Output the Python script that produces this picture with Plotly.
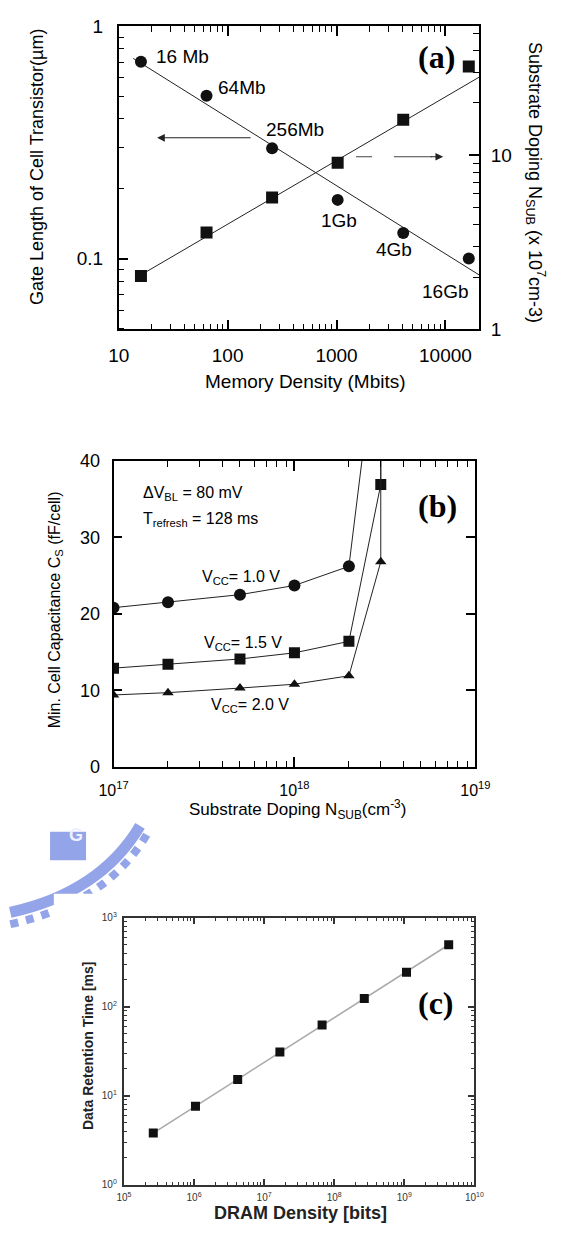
import math
import plotly.graph_objects as go

W, H = 569, 1235

# ---------------- Panel (a) data ----------------
density_mb = [16, 64, 256, 1024, 4096, 16384]
density_labels = ["16 Mb", "64Mb", "256Mb", "1Gb", "4Gb", "16Gb"]
gate_length_um = [0.705, 0.503, 0.299, 0.179, 0.129, 0.100]
substrate_doping_e17 = [2.03, 3.6, 5.72, 9.05, 16.0, 32.4]
gate_fit_x = [13.6, 20400]
gate_fit_y = [0.728, 0.085]
doping_fit_x = [14.2, 20400]
doping_fit_y = [1.97, 28.1]
a_xticks = [10, 100, 1000, 10000]
a_xticktext = ["10", "100", "1000", "10000"]
a_yticks = [0.1, 1]
a_yticktext = ["0.1", "1"]
a_y2ticks = [1, 10]
a_y2ticktext = ["1", "10"]

# ---------------- Panel (b) data ----------------
nsub_vcc10 = [1e17, 2e17, 5e17, 1e18, 2e18, 3e18]
cs_vcc10 = [20.8, 21.5, 22.5, 23.7, 26.2, 60]
nsub_vcc15 = [1e17, 2e17, 5e17, 1e18, 2e18, 3e18, 3e18]
cs_vcc15 = [12.9, 13.4, 14.1, 14.9, 16.4, 36.9, 60]
nsub_vcc20 = [1e17, 2e17, 5e17, 1e18, 2e18, 3e18, 3e18]
cs_vcc20 = [9.4, 9.7, 10.3, 10.8, 11.9, 26.8, 60]
b_xticks = [1e17, 1e18, 1e19]
b_xticktext = ["10<sup>17</sup>", "10<sup>18</sup>", "10<sup>19</sup>"]
b_yticks = [0, 10, 20, 30, 40]

# ---------------- Panel (c) data ----------------
dram_bits = [262144, 1048576, 4194304, 16777216, 67108864,
             268435456, 1073741824, 4294967296]
retention_ms = [3.8, 7.6, 15.2, 31, 62, 123, 243, 495]
c_xticks = [1e5, 1e6, 1e7, 1e8, 1e9, 1e10]
c_xticktext = ["10<sup>5</sup>", "10<sup>6</sup>", "10<sup>7</sup>",
               "10<sup>8</sup>", "10<sup>9</sup>", "10<sup>10</sup>"]
c_yticks = [1, 10, 100, 1000]
c_yticktext = ["10<sup>0</sup>", "10<sup>1</sup>", "10<sup>2</sup>", "10<sup>3</sup>"]


def px(x):
    return x / W


def py(y):
    return 1 - y / H


SANS = "Liberation Sans, Arial, Helvetica, sans-serif"
SERIF = "Liberation Serif, Times New Roman, serif"
BLK = "#111111"


def minor_ticks(color="black", length=6):
    return dict(dtick="D1", ticks="inside", ticklen=length, tickwidth=1.2,
                tickcolor=color, showgrid=False)


fig = go.Figure()

# ---- (a) ----
fig.add_trace(go.Scatter(x=gate_fit_x, y=gate_fit_y, mode="lines",
                         line=dict(color="#222", width=1), xaxis="x", yaxis="y",
                         showlegend=False, hoverinfo="skip"))
fig.add_trace(go.Scatter(x=density_mb, y=gate_length_um, mode="markers",
                         marker=dict(symbol="circle", size=12, color=BLK),
                         xaxis="x", yaxis="y", showlegend=False))
fig.add_trace(go.Scatter(x=doping_fit_x, y=doping_fit_y, mode="lines",
                         line=dict(color="#222", width=1), xaxis="x", yaxis="y2",
                         showlegend=False, hoverinfo="skip"))
fig.add_trace(go.Scatter(x=density_mb, y=substrate_doping_e17, mode="markers",
                         marker=dict(symbol="square", size=12, color=BLK),
                         xaxis="x", yaxis="y2", showlegend=False))

# ---- (b) ----
fig.add_trace(go.Scatter(x=nsub_vcc10, y=cs_vcc10, mode="lines+markers",
                         line=dict(color="#222", width=1),
                         marker=dict(symbol="circle", size=12, color=BLK),
                         xaxis="x2", yaxis="y3", showlegend=False))
fig.add_trace(go.Scatter(x=nsub_vcc15, y=cs_vcc15, mode="lines+markers",
                         line=dict(color="#222", width=1),
                         marker=dict(symbol="square", size=11, color=BLK),
                         xaxis="x2", yaxis="y3", showlegend=False))
fig.add_trace(go.Scatter(x=nsub_vcc20, y=cs_vcc20, mode="lines+markers",
                         line=dict(color="#222", width=1),
                         marker=dict(symbol="triangle-up", size=10, color=BLK),
                         xaxis="x2", yaxis="y3", showlegend=False))

# ---- (c) ----
fig.add_trace(go.Scatter(x=dram_bits, y=retention_ms, mode="lines+markers",
                         line=dict(color="#aaaaaa", width=1.6),
                         marker=dict(symbol="square", size=9, color=BLK),
                         xaxis="x3", yaxis="y4", showlegend=False))


def axis_common(size, color="black", lw=1.5):
    return dict(showgrid=False, zeroline=False, showline=True, linecolor=color,
                linewidth=lw, ticks="inside", tickcolor=color,
                tickfont=dict(family=SANS, size=size, color=color))


layout = dict(
    width=W, height=H, margin=dict(l=0, r=0, t=0, b=0),
    paper_bgcolor="white", plot_bgcolor="rgba(0,0,0,0)", showlegend=False,
)

# (a) axes
layout["xaxis"] = dict(**axis_common(19), type="log", domain=[px(109.5), px(490)],
                       range=[1, math.log10(20400)], anchor="y", mirror="ticks",
                       tickmode="array", tickvals=a_xticks, ticktext=a_xticktext,
                       ticklen=10, tickwidth=1.5, ticklabelstandoff=8,
                       minor=minor_ticks())
layout["yaxis"] = dict(**axis_common(19), type="log", domain=[py(325), py(16.7)],
                       range=[math.log10(0.0495), 0], anchor="x",
                       tickmode="array", tickvals=a_yticks, ticktext=a_yticktext,
                       ticklen=10, tickwidth=1.5, ticklabelstandoff=10,
                       minor=minor_ticks())
layout["yaxis2"] = dict(**axis_common(19), type="log", overlaying="y", side="right",
                        anchor="x", range=[0, 1.74],
                        tickmode="array", tickvals=a_y2ticks, ticktext=a_y2ticktext,
                        ticklen=10, tickwidth=1.5, ticklabelstandoff=6,
                        minor=minor_ticks())

# (b) axes
layout["xaxis2"] = dict(**axis_common(16, lw=1.8), type="log", domain=[px(104), px(486)],
                        range=[17, 19], anchor="y3", mirror="ticks",
                        tickmode="array", tickvals=b_xticks, ticktext=b_xticktext,
                        ticklen=10, tickwidth=1.5, ticklabelstandoff=8,
                        minor=minor_ticks())
layout["yaxis3"] = dict(**axis_common(18, lw=1.8), domain=[py(770), py(458.5)],
                        range=[0, 40], anchor="x2", mirror="ticks",
                        tickmode="array", tickvals=b_yticks,
                        ticklen=9, tickwidth=1.5, ticklabelstandoff=8)

# (c) axes
layout["xaxis3"] = dict(**axis_common(10, color="#333333", lw=2.2), type="log",
                        domain=[px(115), px(485)], range=[5, 10], anchor="y4",
                        mirror="ticks", tickmode="array", tickvals=c_xticks,
                        ticktext=c_xticktext, ticklen=6, tickwidth=1.5,
                        ticklabelstandoff=2, minor=minor_ticks("#333333", 3))
layout["yaxis4"] = dict(**axis_common(10, color="#333333", lw=2.2), type="log",
                        domain=[py(1195), py(923.3)], range=[0, 3], anchor="x3",
                        mirror="ticks", tickmode="array", tickvals=c_yticks,
                        ticktext=c_yticktext, ticklen=6, tickwidth=1.5,
                        ticklabelstandoff=3, minor=minor_ticks("#333333", 3))

fig.update_layout(**layout)

ann = []


def paper_text(text, x, y, size, family=SANS, angle=0, xanchor="center",
               color="black", bold=False):
    if bold:
        text = "<b>" + text + "</b>"
    ann.append(dict(text=text, x=px(x), y=py(y), xref="paper", yref="paper",
                    showarrow=False, textangle=angle, xanchor=xanchor,
                    yanchor="middle", font=dict(family=family, size=size, color=color)))


# (a) point labels tied to data
label_offsets = [(13, 5, "left"), (9, 8, "left"), (-8, 19, "left"),
                 (1, -21, "center"), (-9, -17, "center"), (-24, -33, "center")]
for xv, yv, lab, (dx, dy, anc) in zip(density_mb, gate_length_um, density_labels, label_offsets):
    ann.append(dict(text=lab, x=math.log10(xv), y=math.log10(yv), xref="x", yref="y",
                    showarrow=False, xanchor=anc, yanchor="middle", xshift=dx, yshift=dy,
                    font=dict(family=SANS, size=19, color="black")))

paper_text("Gate Length of Cell Transistor(\u00b5m)", 24, 160, 18, angle=-90)
paper_text("Substrate Doping N<sub>SUB</sub> (x 10<sup>7</sup>cm-3)", 550, 175, 18, angle=90)
paper_text("Memory Density (Mbits)", 307, 378, 19)
paper_text("(a)", 445, 48, 32, family=SERIF, bold=True)

# arrows in (a)
ann.append(dict(text="", x=px(150), y=py(130), xref="paper", yref="paper",
                showarrow=True, ax=95, ay=0, arrowhead=2, arrowsize=1.4,
                arrowwidth=1.1, arrowcolor="#222"))
ann.append(dict(text="", x=px(452), y=py(149.3), xref="paper", yref="paper",
                showarrow=True, ax=-14, ay=0, arrowhead=2, arrowsize=1.4,
                arrowwidth=1.1, arrowcolor="#222"))

# (b) texts
paper_text("\u0394V<sub>BL</sub> = 80 mV", 133, 492, 16, xanchor="left")
paper_text("T<sub>refresh</sub> = 128 ms", 133, 518, 16, xanchor="left")
paper_text("V<sub>CC</sub>= 1.0 V", 195, 577, 16, xanchor="left")
paper_text("V<sub>CC</sub>= 1.5 V", 197, 644, 16, xanchor="left")
paper_text("V<sub>CC</sub>= 2.0 V", 205, 708, 16, xanchor="left")
paper_text("(b)", 446, 505, 32, family=SERIF, bold=True)
paper_text("Min. Cell Capacitance C<sub>S</sub> (fF/cell)", 43, 610, 16, angle=-90)
paper_text("Substrate Doping N<sub>SUB</sub>(cm<sup>-3</sup>)", 298, 813, 17)

# (c) texts
paper_text("(c)", 444, 1010, 32, family=SERIF, bold=True)
paper_text("Data Retention Time [ms]", 77, 1053, 14, angle=-90, bold=True, color="#222")
paper_text("DRAM Density [bits]", 301, 1224, 18, bold=True, color="#222")

# watermark-like logo fragment (decoration)
wm_col = "#93a4e8"
ann.append(dict(text="<b>G</b>", x=px(55), y=py(851), xref="paper", yref="paper",
                showarrow=False, font=dict(family=SANS, size=18, color="#eef1ff")))

fig.update_layout(annotations=ann)

shapes = [
    dict(type="rect", xref="paper", yref="paper", x0=px(37), x1=px(75),
         y0=py(865), y1=py(836), fillcolor=wm_col, line=dict(width=0), layer="below"),
    dict(type="path", xref="paper", yref="paper",
         path=f"M {px(-5)} {py(918)} Q {px(90)} {py(898)} {px(132)} {py(830)}",
         line=dict(color=wm_col, width=11), layer="below"),
    dict(type="path", xref="paper", yref="paper",
         path=f"M {px(-5)} {py(909)} Q {px(84)} {py(890)} {px(124)} {py(830)}",
         line=dict(color="white", width=1.5), layer="below"),
    dict(type="path", xref="paper", yref="paper",
         path=f"M {px(-5)} {py(930)} Q {px(100)} {py(908)} {px(142)} {py(834)}",
         line=dict(color=wm_col, width=8, dash="dot"), layer="below"),
    dict(type="rect", xref="paper", yref="paper", x0=px(41), x1=px(569),
         y0=py(1235), y1=py(899), fillcolor="white", line=dict(width=0), layer="below"),
    # dashed shaft of the right-pointing arrow in (a)
    dict(type="line", xref="paper", yref="paper", x0=px(360), x1=px(377),
         y0=py(149.3), y1=py(149.3), line=dict(color="#444", width=1)),
    dict(type="line", xref="paper", yref="paper", x0=px(400), x1=px(440),
         y0=py(149.3), y1=py(149.3), line=dict(color="#444", width=1)),
]
fig.update_layout(shapes=shapes)

fig.write_html("out.html")
